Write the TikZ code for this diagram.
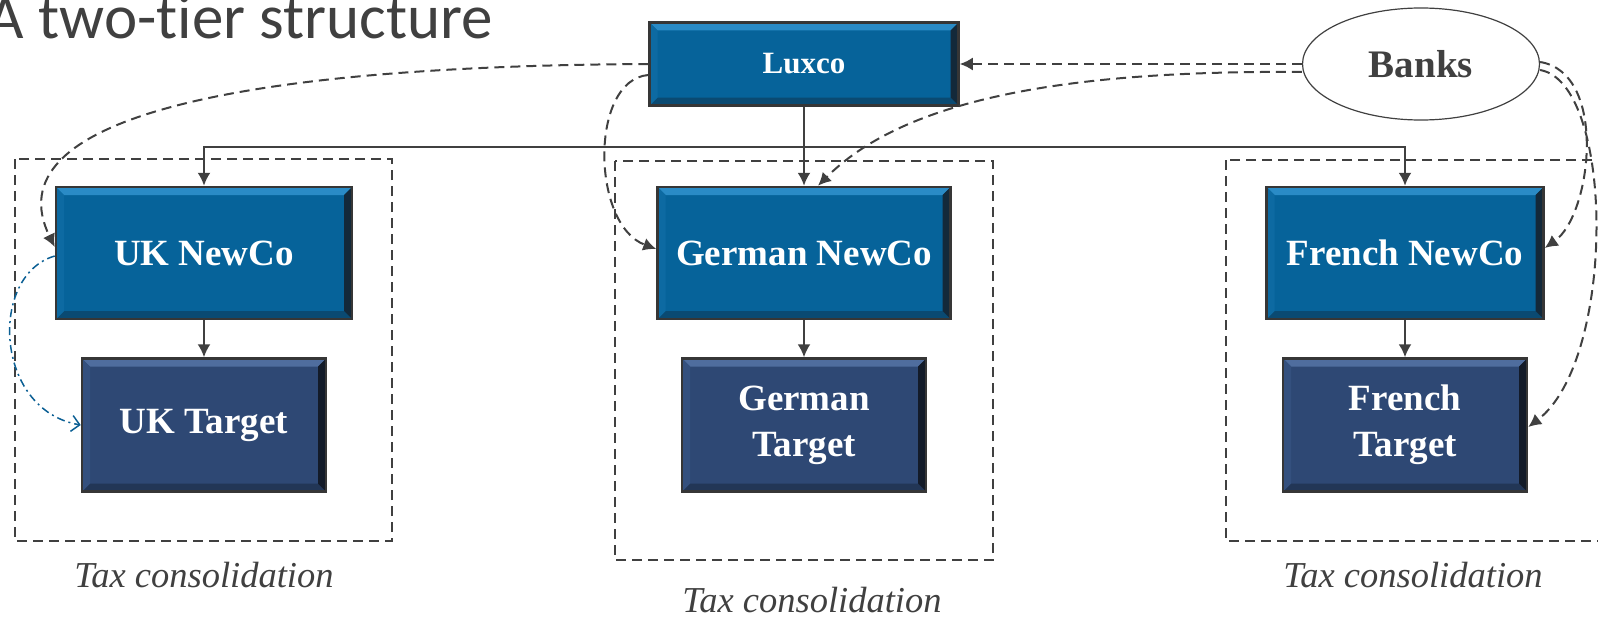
\documentclass[tikz,border=0pt]{standalone}
\usepackage{fontspec}
\setmainfont{Liberation Serif}
\newfontfamily\titlefont[Ligatures=CommonOff]{Carlito}
\newfontfamily\taxfont{Liberation Serif Italic}
\usetikzlibrary{arrows.meta,shapes.geometric}
\definecolor{ink}{HTML}{404040}
\definecolor{newco}{HTML}{06639A}
\definecolor{newcotop}{HTML}{2A8BC6}
\definecolor{newcobot}{HTML}{0A4A72}
\definecolor{newcoleft}{HTML}{0D6AA2}
\definecolor{newcoside}{HTML}{13293A}
\definecolor{target}{HTML}{2E4874}
\definecolor{targettop}{HTML}{4F6D9E}
\definecolor{targetbot}{HTML}{223656}
\definecolor{targetleft}{HTML}{34507E}
\definecolor{targetside}{HTML}{131B29}
\definecolor{loan}{HTML}{0B5F94}
\def\pb{path picture bounding box}
\tikzset{
  company/.style={draw=ink!85!black, line width=2.5pt, fill=#1, text=white,
    font=\bfseries\fontsize{37}{46}\selectfont, align=center, inner sep=0pt,
    path picture={
      \fill[#1top] (\pb.north west) -- (\pb.north east)
        -- ([shift={(-8pt,-8pt)}]\pb.north east) -- ([shift={(8pt,-8pt)}]\pb.north west) -- cycle;
      \fill[#1bot] (\pb.south west) -- (\pb.south east)
        -- ([shift={(-8pt,8pt)}]\pb.south east) -- ([shift={(8pt,8pt)}]\pb.south west) -- cycle;
      \fill[#1left] (\pb.north west) -- (\pb.south west)
        -- ([shift={(8pt,8pt)}]\pb.south west) -- ([shift={(8pt,-8pt)}]\pb.north west) -- cycle;
      \fill[#1side] (\pb.north east) -- (\pb.south east)
        -- ([shift={(-8pt,8pt)}]\pb.south east) -- ([shift={(-8pt,-8pt)}]\pb.north east) -- cycle;
    }},
  newcobox/.style={company=newco, minimum height=132pt},
  targetbox/.style={company=target, minimum width=244pt, minimum height=133pt},
  taxbox/.style={draw=ink, line width=1.5pt, dash pattern=on 10pt off 6pt},
  taxlabel/.style={anchor=base, text=ink, font=\taxfont\fontsize{36.5}{40}\selectfont},
  finance/.style={->, dash pattern=on 10pt off 6pt},
}
\begin{document}
\begin{tikzpicture}[x=1pt,y=-1pt,>={Latex[length=13pt,width=13pt]},line width=2pt,ink]
\clip (0,0) rectangle (1598,618);
% title
\node[anchor=base east, inner sep=0pt, text=ink, font=\titlefont\fontsize{63}{63}\selectfont] (title) at (494,39) {A two-tier structure};
% tax groups
\draw[taxbox] (15,159) rectangle (392,541);
\draw[taxbox] (615,161) rectangle (993,560);
\draw[taxbox] (1226,160) rectangle (1620,541);
\node[taxlabel] (uktax) at (204,587) {Tax consolidation};
\node[taxlabel] (gertax) at (812,612) {Tax consolidation};
\node[taxlabel] (frtax) at (1413,587) {Tax consolidation};
% companies
\node[company=newco, minimum width=309pt, minimum height=83pt, font=\bfseries\fontsize{31}{36}\selectfont] (luxco) at (804,64) {Luxco};
\node[ellipse, draw=ink, line width=1.2pt, minimum width=237pt, minimum height=112pt, text=ink,
  font=\bfseries\fontsize{39}{46}\selectfont] (banks) at (1421,64) {Banks};
\node[newcobox, minimum width=296pt] (uknew) at (204,253) {UK NewCo};
\node[newcobox, minimum width=293pt] (gernew) at (804,253) {German NewCo};
\node[newcobox, minimum width=277pt] (frnew) at (1405,253) {French NewCo};
\node[targetbox] (uktgt) at (204,425) {UK Target};
\node[targetbox] (gertgt) at (804,425) {German\\Target};
\node[targetbox] (frtgt) at (1405,425) {French\\Target};
% ownership
\coordinate (bus) at (luxco.south |- 0,147);
\draw[->] (luxco) -- (gernew);
\draw[->] (bus) -| (uknew);
\draw[->] (bus) -| (frnew);
\draw[->] (uknew) -- (uktgt);
\draw[->] (gernew) -- (gertgt);
\draw[->] (frnew) -- (frtgt);
% financing
\draw[finance] (luxco.west) .. controls +(-420,2) and +(-62,-127) .. ([yshift=6pt]uknew.west);
\draw[finance] ([yshift=-11pt]luxco.west) .. controls +(-59,5) and +(-65,-24) .. ([yshift=4pt]gernew.west);
\draw[finance] (banks.west) -- (luxco.east);
\draw[finance] ([yshift=-8pt]banks.west) .. controls +(-252,-2) and +(82,-82) .. ([xshift=14pt]gernew.north);
\draw[finance] ([yshift=2pt]banks.east) .. controls +(68,11) and +(47,-33) .. ([yshift=5pt]frnew.east);
\draw[finance] ([yshift=-6pt]banks.east) .. controls +(75,13) and +(88,-67) .. ([yshift=-2pt]frtgt.east);
\draw[->, loan, line width=1.5pt, dash pattern=on 8pt off 4pt on 2pt off 4pt, >={Straight Barb[length=8pt,width=16pt]}]
  ([yshift=-3pt]uknew.west) .. controls +(-66,19) and +(-87,-15) .. (uktgt.west);
\end{tikzpicture}
\end{document}
